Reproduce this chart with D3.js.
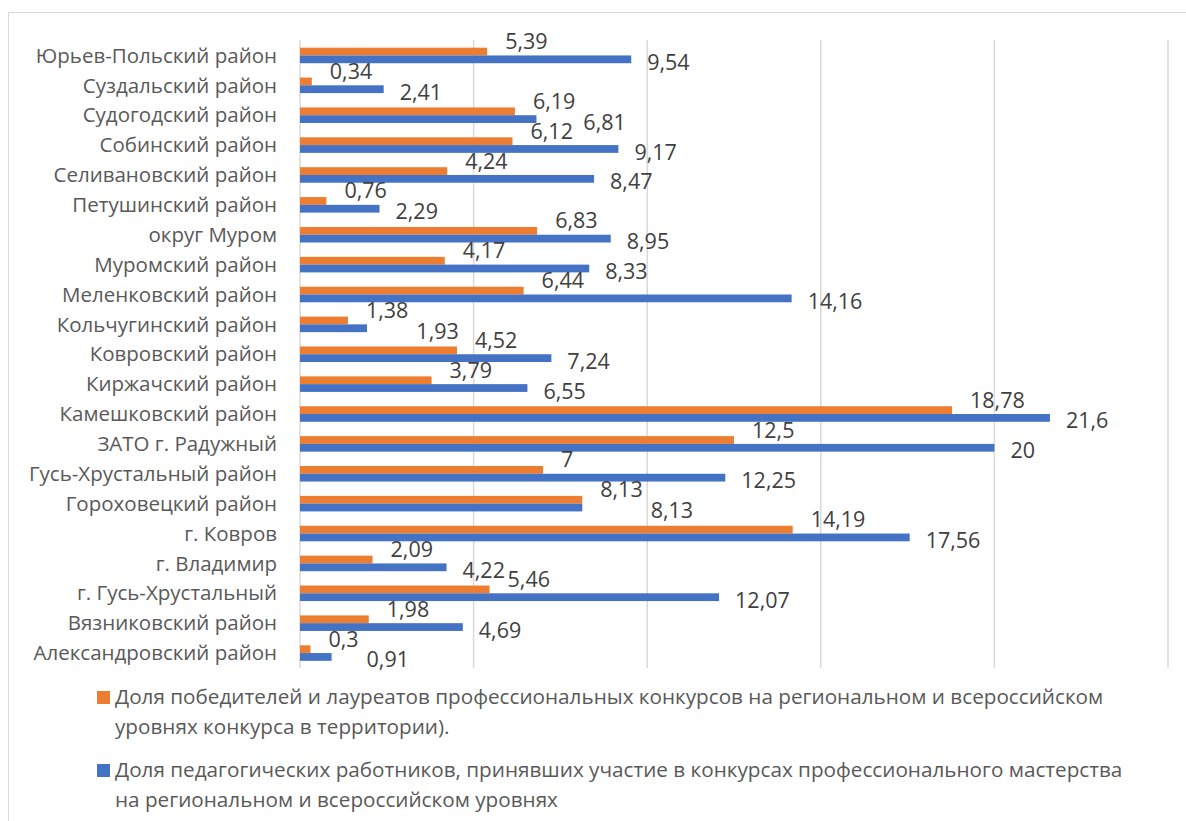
<!DOCTYPE html>
<html>
<head>
<meta charset="utf-8">
<script src="https://cdn.jsdelivr.net/npm/d3@7"></script>
<style>
  html, body { margin: 0; padding: 0; background: #fff; }
  svg { display: block; }
</style>
</head>
<body>
<svg id="chart" width="1186" height="821"></svg>
<script>
const categories = [
  "Юрьев-Польский район", "Суздальский район", "Судогодский район", "Собинский район",
  "Селивановский район", "Петушинский район", "округ Муром", "Муромский район",
  "Меленковский район", "Кольчугинский район", "Ковровский район", "Киржачский район",
  "Камешковский район", "ЗАТО г. Радужный ", "Гусь-Хрустальный район", "Гороховецкий район",
  "г. Ковров", "г. Владимир", "г. Гусь-Хрустальный", "Вязниковский район", "Александровский район"
];
const winners = [5.39, 0.34, 6.19, 6.12, 4.24, 0.76, 6.83, 4.17, 6.44, 1.38, 4.52, 3.79, 18.78, 12.5, 7, 8.13, 14.19, 2.09, 5.46, 1.98, 0.3];
const participants = [9.54, 2.41, 6.81, 9.17, 8.47, 2.29, 8.95, 8.33, 14.16, 1.93, 7.24, 6.55, 21.6, 20, 12.25, 8.13, 17.56, 4.22, 12.07, 4.69, 0.91];
const xTicks = [0, 5, 10, 15, 20, 25];
const seriesNames = [
  ["Доля победителей и лауреатов профессиональных конкурсов на региональном и всероссийском", "уровнях конкурса в территории)."],
  ["Доля педагогических работников, принявших участие в конкурсах профессионального мастерства", "на региональном и всероссийском уровнях"]
];
const seriesKeys = ["winners", "participants"];
const colors = ["#ED7D31", "#4472C4"];

const data = categories.map((c, i) => ({ cat: c, winners: winners[i], participants: participants[i] }));

const svg = d3.select("#chart");
const font = "'Open Sans', 'Noto Sans', sans-serif";

// outer frame
svg.append("rect").attr("x", 8.5).attr("y", 12.5).attr("width", 1200).attr("height", 840)
  .attr("fill", "none").attr("stroke", "#d9d9d9").attr("stroke-width", 1);

const x = d3.scaleLinear().domain([0, 25]).range([300, 1168]);
const y = d3.scaleBand().domain(categories).range([40.5, 668]).paddingInner(0.48).paddingOuter(0.24);
const ySub = d3.scaleBand().domain(seriesKeys).range([0, y.bandwidth()]);

// gridlines
svg.append("g").selectAll("line").data(xTicks).join("line")
  .attr("x1", d => x(d)).attr("x2", d => x(d))
  .attr("y1", 40).attr("y2", 668)
  .attr("stroke", "#d9d9d9").attr("stroke-width", 1.5);

// category axis labels
const yAxis = d3.axisLeft(y).tickSize(0).tickPadding(0);
const yg = svg.append("g").attr("transform", "translate(277,0)").call(yAxis);
yg.select(".domain").remove();
yg.selectAll("text").attr("font-family", font).attr("font-size", 20.5).attr("fill", "#595959").attr("dy", "0.35em");

// bars
const groups = svg.append("g").selectAll("g").data(data).join("g")
  .attr("transform", d => `translate(0,${y(d.cat)})`);
seriesKeys.forEach((k, si) => {
  groups.append("rect")
    .attr("x", x(0))
    .attr("y", ySub(k))
    .attr("width", d => x(d[k]) - x(0))
    .attr("height", ySub.bandwidth())
    .attr("fill", colors[si]);
});

// value labels
const fmt = v => String(v).replace(".", ",");
groups.append("text")
  .attr("class", "lblW")
  .attr("x", d => x(d.winners) + 18)
  .attr("y", ySub("winners") + ySub.bandwidth() / 2 - 10)
  .attr("dy", "0.35em")
  .attr("font-family", font).attr("font-size", 21.5).attr("fill", "#404040")
  .text(d => fmt(d.winners));
groups.each(function(d) {
  const g = d3.select(this);
  const w = g.select(".lblW");
  const wRight = x(d.winners) + 18 + w.node().getComputedTextLength();
  let px = x(d.participants) + 16;
  if (px < wRight + 4) px = wRight + 8;
  g.append("text")
    .attr("x", px)
    .attr("y", ySub("participants") + ySub.bandwidth() / 2 + 3)
    .attr("dy", "0.35em")
    .attr("font-family", font).attr("font-size", 21.5).attr("fill", "#404040")
    .text(fmt(d.participants));
});

// legend
const legendTop = [697, 770];
const leg = svg.append("g").selectAll("g").data(seriesNames).join("g")
  .attr("transform", (d, i) => `translate(97,${legendTop[i]})`);
leg.append("rect").attr("x", 0).attr("y", -6).attr("width", 13).attr("height", 13)
  .attr("fill", (d, i) => colors[i]);
leg.each(function(lines) {
  const t = d3.select(this).append("text")
    .attr("font-family", font).attr("font-size", 20.7).attr("fill", "#595959");
  lines.forEach((ln, j) => {
    t.append("tspan").attr("x", 18).attr("y", j * 30).attr("dy", "0.35em").text(ln);
  });
});
</script>
</body>
</html>
